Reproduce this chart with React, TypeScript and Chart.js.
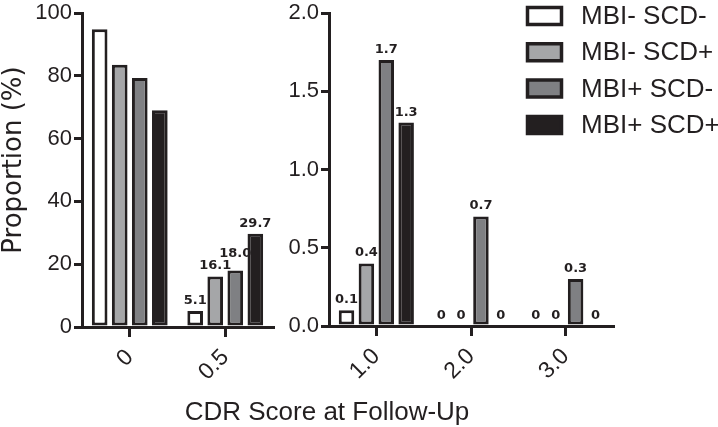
import React, { useEffect, useRef } from "react";
import { Chart, registerables } from "chart.js";

Chart.register(...registerables);

// ---------- data ----------
const seriesNames = ["MBI- SCD-", "MBI- SCD+", "MBI+ SCD-", "MBI+ SCD+"];
const seriesColors = ["#ffffff", "#a5a6a8", "#7f8083", "#231f20"];

const leftCategories = ["0", "0.5"];
const leftMbiNegScdNeg = [94.8, 5.1];
const leftMbiNegScdPos = [83.5, 16.1];
const leftMbiPosScdNeg = [79.3, 18.0];
const leftMbiPosScdPos = [69.0, 29.7];
const leftLabelShown = [false, true];

const rightCategories = ["1.0", "2.0", "3.0"];
const rightMbiNegScdNeg = [0.1, 0, 0];
const rightMbiNegScdPos = [0.4, 0, 0];
const rightMbiPosScdNeg = [1.7, 0.7, 0.3];
const rightMbiPosScdPos = [1.3, 0, 0];
const rightLabelShown = [true, true, true];

const leftYMax = 100;
const leftYStep = 20;
const rightYMax = 2.0;
const rightYStep = 0.5;

const yTitle = "Proportion (%)";
const xTitle = "CDR Score at Follow-Up";

// ---------- styling ----------
const INK = "#231f20";
const FONT = '"Liberation Sans", Arial, Helvetica, sans-serif';

function makeDatasets(values: number[][]) {
  return seriesNames.map((name, i) => ({
    label: name,
    data: values[i],
    backgroundColor: seriesColors[i],
    borderColor: INK,
    borderWidth: 3,
    borderSkipped: false as any,
    categoryPercentage: 0.84,
    barPercentage: 0.78,
  }));
}

function valueLabelPlugin(show: boolean[]) {
  return {
    id: "valueLabels",
    afterDatasetsDraw(chart: any) {
      const ctx = chart.ctx;
      ctx.save();
      ctx.font = 'bold 13px "DejaVu Sans", sans-serif';
      ctx.fillStyle = INK;
      ctx.textAlign = "center";
      ctx.textBaseline = "alphabetic";
      const textH = 10;
      const nCats = chart.data.labels.length;
      for (let i = 0; i < nCats; i++) {
        if (!show[i]) continue;
        let prev: { l: number; r: number; top: number; base: number } | null = null;
        chart.data.datasets.forEach((ds: any, di: number) => {
          const bar: any = chart.getDatasetMeta(di).data[i];
          const v = ds.data[i] as number;
          const txt = v === 0 ? "0" : v.toFixed(1);
          const w = ctx.measureText(txt).width;
          let base = bar.y - 7;
          const l = bar.x - w / 2;
          const r = bar.x + w / 2;
          if (prev && l < prev.r && r > prev.l && base > prev.top && base - textH < prev.base) {
            base = prev.top - 2;
          }
          ctx.fillText(txt, bar.x, base);
          prev = { l, r, top: base - textH, base };
        });
      }
      ctx.restore();
    },
  };
}

const titlesPlugin = {
  id: "axisTitles",
  afterDraw(chart: any) {
    const ctx = chart.ctx;
    ctx.save();
    ctx.fillStyle = INK;
    // x title, shared by both panels
    ctx.font = `26px ${FONT}`;
    ctx.textAlign = "center";
    ctx.textBaseline = "alphabetic";
    ctx.fillText(xTitle, 327, 420);
    // y title
    ctx.translate(14, 160);
    ctx.rotate(-Math.PI / 2);
    ctx.font = '26px "DejaVu Sans", sans-serif';
    ctx.textBaseline = "middle";
    ctx.fillText(yTitle, 0, 0);
    ctx.restore();
  },
};

const legendPlugin = {
  id: "sideLegend",
  afterDraw(chart: any) {
    const ctx = chart.ctx;
    ctx.save();
    chart.data.datasets.forEach((ds: any, i: number) => {
      const top = 7.5 + i * 36.3;
      ctx.fillStyle = ds.backgroundColor;
      ctx.strokeStyle = INK;
      ctx.lineWidth = 3.5;
      ctx.beginPath();
      ctx.rect(527.5, top, 34, 17);
      ctx.fill();
      ctx.stroke();
      ctx.fillStyle = INK;
      ctx.font = `26px ${FONT}`;
      ctx.textAlign = "left";
      ctx.textBaseline = "middle";
      ctx.fillText(ds.label, 581, top + 9.5);
    });
    ctx.restore();
  },
};

function yScale(max: number, step: number, fmt: (v: number) => string, width: number) {
  return {
    min: 0,
    max,
    afterFit: (s: any) => {
      s.width = width;
    },
    ticks: {
      stepSize: step,
      color: INK,
      padding: 2,
      font: { family: FONT, size: 22, lineHeight: 1 },
      callback: (v: any) => fmt(Number(v)),
    },
    grid: {
      display: true,
      drawOnChartArea: false,
      drawTicks: true,
      tickLength: 8,
      lineWidth: 3,
      color: INK,
    },
    border: { display: true, width: 3, color: INK },
  };
}

function xScale(height: number) {
  return {
    type: "category" as const,
    offset: true,
    afterFit: (s: any) => {
      s.height = height;
    },
    ticks: {
      color: INK,
      padding: 7,
      autoSkip: false,
      minRotation: 45,
      maxRotation: 45,
      font: { family: FONT, size: 23, lineHeight: 1.2 },
    },
    grid: {
      display: true,
      offset: false,
      drawOnChartArea: false,
      drawTicks: true,
      tickLength: 10,
      lineWidth: 3,
      color: INK,
    },
    border: { display: true, width: 3, color: INK },
  };
}

const canvasStyle: React.CSSProperties = {
  position: "absolute",
  left: 0,
  top: 0,
  width: 718,
  height: 427,
};

export default function App() {
  const leftRef = useRef<HTMLCanvasElement | null>(null);
  const rightRef = useRef<HTMLCanvasElement | null>(null);

  useEffect(() => {
    const common = {
      responsive: false,
      animation: false as const,
      devicePixelRatio: 1,
      plugins: { legend: { display: false }, tooltip: { enabled: false }, title: { display: false } },
    };

    const left = new Chart(leftRef.current!, {
      type: "bar",
      data: {
        labels: leftCategories,
        datasets: makeDatasets([leftMbiNegScdNeg, leftMbiNegScdPos, leftMbiPosScdNeg, leftMbiPosScdPos]),
      },
      options: {
        ...common,
        layout: { padding: { left: 0, top: 11, right: 445, bottom: 0 } },
        scales: {
          x: xScale(100),
          y: yScale(leftYMax, leftYStep, (v) => String(v), 82),
        },
      } as any,
      plugins: [valueLabelPlugin(leftLabelShown), titlesPlugin],
    });

    const right = new Chart(rightRef.current!, {
      type: "bar",
      data: {
        labels: rightCategories,
        datasets: makeDatasets([rightMbiNegScdNeg, rightMbiNegScdPos, rightMbiPosScdNeg, rightMbiPosScdPos]),
      },
      options: {
        ...common,
        layout: { padding: { left: 280, top: 11, right: 105, bottom: 0 } },
        scales: {
          x: xScale(101),
          y: yScale(rightYMax, rightYStep, (v) => v.toFixed(1), 49),
        },
      } as any,
      plugins: [valueLabelPlugin(rightLabelShown), legendPlugin],
    });

    return () => {
      left.destroy();
      right.destroy();
    };
  }, []);

  return (
    <div style={{ position: "absolute", left: 0, top: 0, width: 718, height: 427, background: "#ffffff" }}>
      <canvas ref={leftRef} width={718} height={427} style={canvasStyle} />
      <canvas ref={rightRef} width={718} height={427} style={canvasStyle} />
    </div>
  );
}
